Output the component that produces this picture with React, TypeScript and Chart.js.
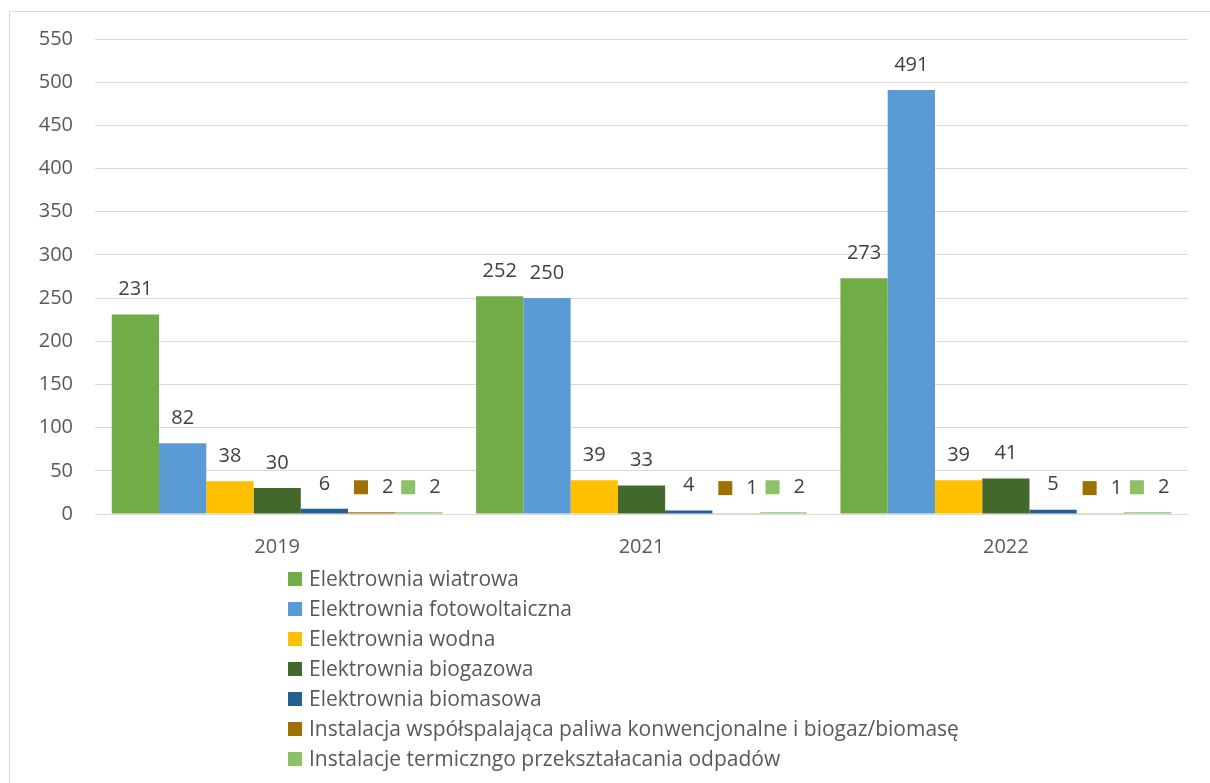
import React, { useEffect, useRef } from "react";
import { Chart, registerables } from "chart.js";

Chart.register(...registerables);

const categories = ["2019", "2021", "2022"];
const seriesNames = [
  "Elektrownia wiatrowa",
  "Elektrownia fotowoltaiczna",
  "Elektrownia wodna",
  "Elektrownia biogazowa",
  "Elektrownia biomasowa",
  "Instalacja współspalająca paliwa konwencjonalne i biogaz/biomasę",
  "Instalacje termiczngo przekształacania odpadów",
];
const wiatrowa = [231, 252, 273];
const fotowoltaiczna = [82, 250, 491];
const wodna = [38, 39, 39];
const biogazowa = [30, 33, 41];
const biomasowa = [6, 4, 5];
const wspolspalajaca = [2, 1, 1];
const termiczne = [2, 2, 2];
const seriesColors = ["#70AD47", "#5B9BD5", "#FFC000", "#43682B", "#255E91", "#9E7100", "#8CC168"];
const yTicks = [0, 50, 100, 150, 200, 250, 300, 350, 400, 450, 500, 550];

const FONT = "'Open Sans', sans-serif";
const FSIZE = 20;
const LSIZE = 21;

const labelPlugin = {
  id: "valueLabels",
  afterDatasetsDraw(chart: any) {
    const ctx = chart.ctx;
    ctx.save();
    ctx.font = `${FSIZE}px ${FONT}`;
    ctx.fillStyle = "#404040";
    ctx.textBaseline = "middle";
    chart.data.datasets.forEach((ds: any, di: number) => {
      const meta = chart.getDatasetMeta(di);
      meta.data.forEach((bar: any, i: number) => {
        const v = ds.data[i];
        const txt = String(v);
        const y = bar.y - 25;
        if (di >= 5) {
          const tw = ctx.measureText(txt).width;
          const sq = 14;
          const gap = 14;
          const total = sq + gap + tw;
          const x0 = bar.x - total / 2 + 2;
          ctx.fillStyle = seriesColors[di];
          ctx.fillRect(x0, y - sq / 2, sq, sq);
          ctx.fillStyle = "#404040";
          ctx.textAlign = "left";
          ctx.fillText(txt, x0 + sq + gap, y);
        } else {
          ctx.textAlign = "center";
          ctx.fillText(txt, bar.x, y);
        }
      });
    });
    ctx.restore();
  },
};

const legendPlugin = {
  id: "vertLegend",
  afterDraw(chart: any) {
    const ctx = chart.ctx;
    ctx.save();
    ctx.font = `${LSIZE}px ${FONT}`;
    ctx.textBaseline = "middle";
    ctx.textAlign = "left";
    const x = 278;
    const y0 = 567;
    seriesNames.forEach((name, i) => {
      const y = y0 + i * 30;
      ctx.fillStyle = seriesColors[i];
      ctx.fillRect(x, y - 7, 14, 14);
      ctx.fillStyle = "#595959";
      ctx.fillText(name, x + 21, y + 1);
    });
    ctx.restore();
  },
};

export default function App() {
  const ref = useRef<HTMLCanvasElement>(null);
  useEffect(() => {
    document.documentElement.style.overflow = "hidden";
    const values = [wiatrowa, fotowoltaiczna, wodna, biogazowa, biomasowa, wspolspalajaca, termiczne];
    const chart = new Chart(ref.current!, {
      type: "bar",
      data: {
        labels: categories,
        datasets: values.map((d, i) => ({
          label: seriesNames[i],
          data: d,
          backgroundColor: seriesColors[i],
          borderWidth: 0,
          categoryPercentage: 0.908,
          barPercentage: 1,
        })),
      },
      options: {
        responsive: false,
        animation: false,
        maintainAspectRatio: false,
        layout: { padding: { left: 0, right: 22, top: 27, bottom: 209 } },
        plugins: {
          legend: { display: false },
          tooltip: { enabled: false },
        },
        scales: {
          x: {
            grid: { display: false, drawTicks: false },
            border: { display: true, color: "#D9D9D9", width: 1 },
            ticks: { color: "#595959", font: { size: FSIZE, family: FONT }, padding: 21 },
            afterFit(axis: any) {
              axis.height = 60;
              axis.paddingLeft = 0;
              axis.paddingRight = 0;
            },
          },
          y: {
            min: 0,
            max: 550,
            afterBuildTicks(axis: any) {
              axis.ticks = yTicks.map((v) => ({ value: v }));
            },
            grid: { color: "#D9D9D9", drawTicks: false },
            border: { display: false },
            ticks: { color: "#595959", font: { size: FSIZE, family: FONT }, padding: 22 },
            afterFit(axis: any) {
              axis.width = 85;
              axis.paddingTop = 0;
              axis.paddingBottom = 0;
            },
          },
        },
      },
      plugins: [labelPlugin, legendPlugin],
    });
    return () => chart.destroy();
  }, []);
  return (
    <div
      style={{
        position: "absolute",
        left: 9,
        top: 11,
        width: 1210,
        height: 790,
        border: "1px solid #D9D9D9",
        background: "#fff",
      }}
    >
      <canvas ref={ref} width={1200} height={771} style={{ display: "block" }} />
    </div>
  );
}
